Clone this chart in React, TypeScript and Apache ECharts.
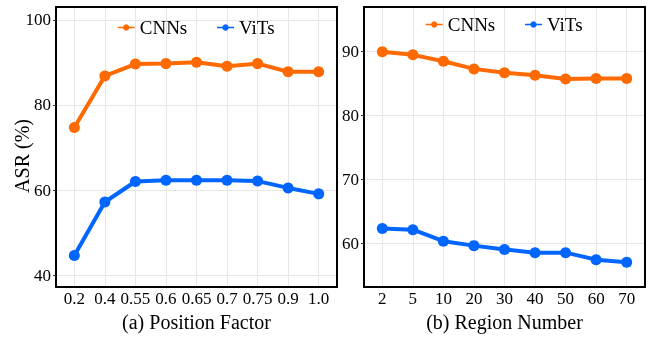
import React, { useEffect, useRef } from 'react';
import * as echarts from 'echarts';

const posLabels = ['0.2', '0.4', '0.55', '0.6', '0.65', '0.7', '0.75', '0.9', '1.0'];
const posCNN = [74.7, 86.8, 89.6, 89.7, 90.0, 89.1, 89.7, 87.8, 87.8];
const posViT = [44.6, 57.2, 62.0, 62.3, 62.3, 62.3, 62.1, 60.5, 59.1];
const regLabels = ['2', '5', '10', '20', '30', '40', '50', '60', '70'];
const regCNN = [90.0, 89.5, 88.5, 87.3, 86.7, 86.3, 85.7, 85.8, 85.8];
const regViT = [62.3, 62.1, 60.3, 59.6, 59.0, 58.5, 58.5, 57.4, 57.0];
const leftTicks = [40, 60, 80, 100];
const rightTicks = [60, 70, 80, 90];
const seriesNames = ['CNNs', 'ViTs'];
const xTitles = ['(a) Position Factor', '(b) Region Number'];
const yTitle = 'ASR (%)';

const FONT = 'Liberation Serif';
const ORANGE = '#ff6a00';
const BLUE = '#0066ff';

function App() {
  const ref = useRef<HTMLDivElement>(null);
  useEffect(() => {
    if (!ref.current) return;
    const chart = echarts.init(ref.current, undefined, { renderer: 'svg' });
    const idx = posLabels.map((_, i) => i);
    const frameLine = { show: true, lineStyle: { color: '#000', width: 2 } };
    const mkX = (gi: number, labels: string[]) => ({
      type: 'value',
      gridIndex: gi,
      position: 'bottom',
      min: -0.6,
      max: 8.6,
      name: xTitles[gi],
      nameLocation: 'middle',
      nameGap: 21,
      nameTextStyle: { fontFamily: FONT, fontSize: 20, color: '#000' },
      axisLine: { ...frameLine, onZero: false },
      axisTick: { show: false, customValues: idx },
      axisLabel: {
        customValues: idx,
        formatter: (v: number) => labels[Math.round(v)] ?? '',
        fontFamily: FONT,
        fontSize: 17,
        color: '#000',
        margin: 3,
      },
      splitLine: { show: true, lineStyle: { color: '#e6e6e6', width: 1 } },
    });
    const mkXTop = (gi: number) => ({
      type: 'value',
      gridIndex: gi,
      position: 'top',
      min: -0.6,
      max: 8.6,
      axisLine: { ...frameLine, onZero: false },
      axisTick: { show: false },
      axisLabel: { show: false },
      splitLine: { show: false },
    });
    const mkY = (gi: number, min: number, max: number, ticks: number[]) => ({
      type: 'value',
      gridIndex: gi,
      position: 'left',
      min,
      max,
      axisLine: { ...frameLine, onZero: false },
      axisTick: { show: true, customValues: ticks, length: 3, lineStyle: { color: '#333' } },
      axisLabel: { customValues: ticks, fontFamily: FONT, fontSize: 17, color: '#000', margin: 5 },
      splitLine: { show: true, lineStyle: { color: '#e6e6e6', width: 1 } },
    });
    const mkYRight = (gi: number, min: number, max: number) => ({
      type: 'value',
      gridIndex: gi,
      position: 'right',
      min,
      max,
      axisLine: { ...frameLine, onZero: false },
      axisTick: { show: false },
      axisLabel: { show: false },
      splitLine: { show: false },
    });
    const mkS = (name: string, color: string, gi: number, vals: number[]) => ({
      type: 'line',
      name,
      xAxisIndex: gi,
      yAxisIndex: gi,
      data: vals.map((v, i) => [i, v]),
      symbol: 'circle',
      symbolSize: 11,
      lineStyle: { color, width: 4 },
      itemStyle: { color },
      z: 3,
    });
    const legendCommon = {
      data: seriesNames,
      padding: 0,
      itemWidth: 17,
      itemHeight: 8,
      itemGap: 29,
      textStyle: { fontFamily: FONT, fontSize: 19, color: '#000' },
      lineStyle: { width: 1.5 },
    };
    chart.setOption({
      animation: false,
      grid: [
        { left: 56, top: 7, right: 311, bottom: 46 },
        { left: 364, top: 7, right: 3, bottom: 46 },
      ],
      legend: [
        { ...legendCommon, left: 117, top: 18 },
        { ...legendCommon, left: 425, top: 15 },
      ],
      xAxis: [mkX(0, posLabels), mkX(1, regLabels), mkXTop(0), mkXTop(1)],
      yAxis: [mkY(0, 37.2, 103, leftTicks), mkY(1, 53.1, 97, rightTicks), mkYRight(0, 37.2, 103), mkYRight(1, 53.1, 97)],
      series: [
        mkS(seriesNames[0], ORANGE, 0, posCNN),
        mkS(seriesNames[1], BLUE, 0, posViT),
        mkS(seriesNames[0], ORANGE, 1, regCNN),
        mkS(seriesNames[1], BLUE, 1, regViT),
      ],
      graphic: [
        {
          type: 'text',
          x: 22,
          y: 156,
          rotation: Math.PI / 2,
          style: { text: yTitle, font: `20px "${FONT}"`, align: 'center', verticalAlign: 'middle', fill: '#000' },
        },
      ],
    });
    return () => chart.dispose();
  }, []);
  return <div ref={ref} style={{ position: 'fixed', left: 0, top: 0, width: 648, height: 337 }} />;
}

export default App;
